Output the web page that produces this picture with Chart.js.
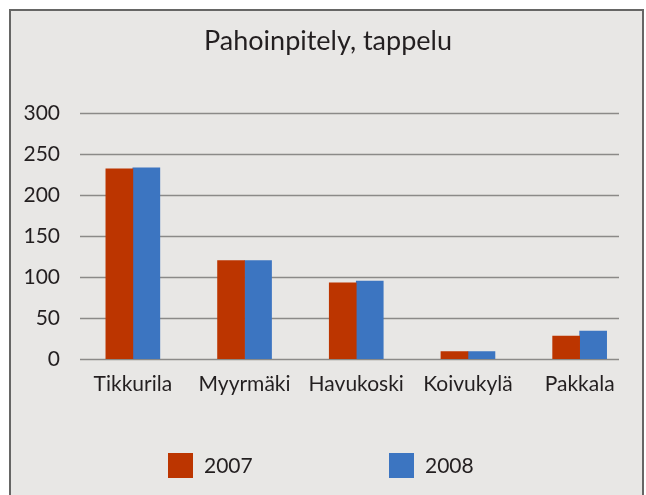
<!DOCTYPE html>
<html>
<head>
<meta charset="utf-8">
<script src="https://cdn.jsdelivr.net/npm/chart.js@4"></script>
<style>
  html, body { margin: 0; padding: 0; background: #ffffff; }
</style>
</head>
<body>
<canvas id="chart" width="646" height="495"></canvas>
<script>
// Chart data
const categories = ["Tikkurila", "Myyrmäki", "Havukoski", "Koivukylä", "Pakkala"];
const seriesLabels = ["2007", "2008"];
const values2007 = [232, 120, 93, 9, 28];
const values2008 = [233, 120, 95, 9, 34];
const yMin = 0, yMax = 300, yStep = 50;

const RED = "#bc3500";
const BLUE = "#3c75c1";
const TEXT = "#231f20";
const FONT = "Lato";

Chart.defaults.color = TEXT;
Chart.defaults.font.family = FONT;

//Grey frame with dark border behind the whole chart
const framePlugin = {
    id: "frame",
    beforeDraw(chart){
        const ctx = chart.ctx;
        ctx.save();
        ctx.fillStyle = "#e8e7e5";
        ctx.fillRect(10, 10, 633, 490);
        ctx.strokeStyle = "#666665";
        ctx.lineWidth = 2;
        ctx.strokeRect(10, 10, 633, 490);
        ctx.restore();
    }
};

//Horizontal grid lines, shorter than the category area
const gridPlugin = {
    id: "shortGrid",
    beforeDatasetsDraw(chart){
        const ctx = chart.ctx, y = chart.scales.y;
        ctx.save();
        ctx.strokeStyle = "#8b8a88";
        ctx.lineWidth = 1.6;
        y.ticks.forEach(t => {
            const py = Math.round(y.getPixelForValue(t.value)) + 0.5;
            ctx.beginPath();
            ctx.moveTo(80, py);
            ctx.lineTo(619, py);
            ctx.stroke();
        });
        ctx.restore();
    }
};

//Legend drawn at the bottom with wide spacing
const legendPlugin = {
    id: "wideLegend",
    afterDraw(chart){
        const ctx = chart.ctx;
        ctx.save();
        ctx.font = `21px ${FONT}`;
        ctx.textBaseline = "middle";
        ctx.textAlign = "left";
        chart.data.datasets.forEach((ds, i) => {
            const x = 168 + i * 221;
            ctx.fillStyle = ds.backgroundColor;
            ctx.fillRect(x, 453, 25, 25);
            ctx.fillStyle = TEXT;
            ctx.fillText(ds.label, x + 36, 466);
        });
        ctx.restore();
    }
};

new Chart("chart", {
    type: "bar",
    data: {
        labels: categories,
        datasets: [
            { label: seriesLabels[0], data: values2007, backgroundColor: RED, barThickness: 27 },
            { label: seriesLabels[1], data: values2008, backgroundColor: BLUE, barThickness: 27 },
        ],
    },
    plugins: [framePlugin, gridPlugin, legendPlugin],
    options: {
        responsive: false,
        animation: false,
        layout: { padding: { top: 0, left: 20.5, right: 10.5, bottom: 0 } },
        plugins: {
            legend: { display: false },
            tooltip: { enabled: false },
            title: {
                display: true,
                text: "Pahoinpitely, tappelu",
                color: TEXT,
                font: { size: 27, weight: "normal", family: FONT },
                padding: { top: 25, bottom: 55.6 },
            },
        },
        scales: {
            x: {
                grid: { display: false, drawTicks: false },
                border: { display: false },
                ticks: { padding: 13, font: { size: 21 }, color: TEXT, maxRotation: 0, autoSkip: false },
                afterFit(scale){ scale.height = 136; },
            },
            y: {
                min: yMin,
                max: yMax,
                grid: { display: false, drawTicks: false },
                border: { display: false },
                ticks: { stepSize: yStep, padding: 17, font: { size: 21 }, color: TEXT },
                afterFit(scale){ scale.width = 56.5; },
            },
        },
    },
});
</script>
</body>
</html>
